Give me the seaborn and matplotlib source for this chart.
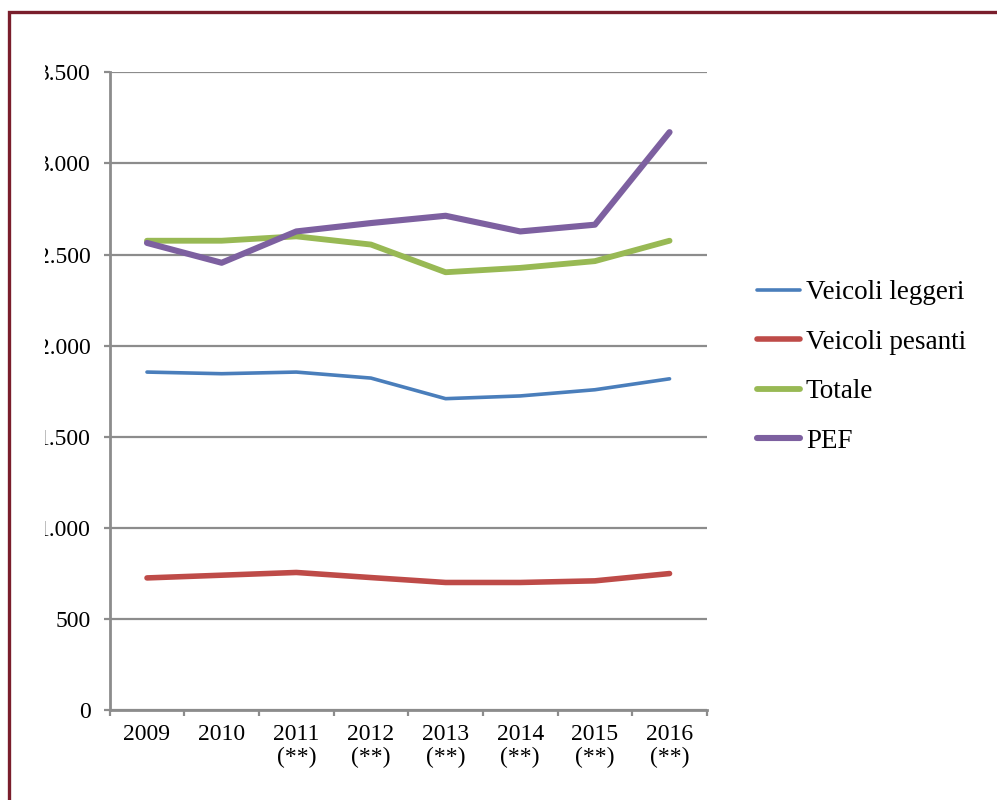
import pandas as pd
import numpy as np
import seaborn as sns
import matplotlib.pyplot as plt
from matplotlib.patches import Rectangle
from matplotlib.transforms import Bbox, TransformedBbox

# Data
anni = ['2009', '2010', '2011\n(**)', '2012\n(**)', '2013\n(**)',
        '2014\n(**)', '2015\n(**)', '2016\n(**)']
veicoli_leggeri = [1855, 1846, 1855, 1822, 1709, 1724, 1758, 1818]
veicoli_pesanti = [725, 740, 755, 727, 700, 700, 709, 749]
totale = [2576, 2576, 2600, 2555, 2403, 2427, 2464, 2576]
pef = [2564, 2455, 2627, 2673, 2713, 2627, 2664, 3172]

serie = ['Veicoli leggeri', 'Veicoli pesanti', 'Totale', 'PEF']
colori = ['#4A7EBB', '#BE4B48', '#98B954', '#7D60A0']
spessori = [2.6, 4.0, 4.2, 4.4]

df = pd.DataFrame({
    'pos': list(range(len(anni))) * 4,
    'valore': veicoli_leggeri + veicoli_pesanti + totale + pef,
    'serie': np.repeat(serie, len(anni)),
})

sns.set_theme(style='white')
plt.rcParams['font.family'] = ['Liberation Serif', 'DejaVu Serif']
plt.rcParams['text.color'] = 'black'
plt.rcParams['xtick.labelcolor'] = 'black'
plt.rcParams['ytick.labelcolor'] = 'black'

fig = plt.figure(figsize=(9.97, 8.0), dpi=100)
ax = fig.add_axes([0.110, 0.1125, 0.599, 0.797])

for nome, col, lw in zip(serie, colori, spessori):
    sub = df[df['serie'] == nome]
    sns.lineplot(data=sub, x='pos', y='valore', ax=ax, color=col, linewidth=lw,
                 label=nome, solid_capstyle='round', solid_joinstyle='round')

ax.set_xlim(-0.5, len(anni) - 0.5)
ax.set_ylim(0, 3500)
ax.set_yticks(np.arange(0, 3501, 500))
ax.set_yticklabels([f'{v:,}'.replace(',', '.') for v in range(0, 3501, 500)])
ax.yaxis.grid(True, color='#8C8C8C', linewidth=1.6)
ax.xaxis.grid(False)
ax.set_xlabel('')
ax.set_ylabel('')

# x: tick marks on category boundaries, labels centred
ax.set_xticks(np.arange(-0.5, len(anni), 1.0))
ax.set_xticklabels([])
ax.set_xticks(range(len(anni)), minor=True)
ax.set_xticklabels(anni, minor=True, fontsize=17, linespacing=1.15)
ax.tick_params(axis='x', which='major', length=4, width=1.6, color='#8C8C8C',
               direction='out', bottom=True)
ax.tick_params(axis='x', which='minor', length=0, pad=10, labelcolor='black')
ax.tick_params(axis='y', length=4, width=1.6, color='#8C8C8C', direction='out',
               left=True, labelsize=17, pad=9.5, labelcolor='black')

for s in ['top', 'right']:
    ax.spines[s].set_visible(False)
for s in ['left', 'bottom']:
    ax.spines[s].set_color('#8C8C8C')
    ax.spines[s].set_linewidth(2.0)

# y labels are cut on the left in the original
clip = TransformedBbox(Bbox([[45 / 997, 0], [1, 1]]), fig.transFigure)
for lab in ax.get_yticklabels():
    lab.set_clip_box(clip)
    lab.set_clip_on(True)

leg = ax.legend(loc='center left', bbox_to_anchor=(1.066, 0.538), frameon=False,
                fontsize=19.5, handlelength=1.6, handletextpad=0.2,
                labelspacing=0.9, borderaxespad=0, labelcolor='black')
for h, lw in zip(leg.get_lines(), spessori):
    h.set_linewidth(lw)
    h.set_solid_capstyle('round')

# dark red frame of the original picture
fig.patches.append(Rectangle((9 / 997, -0.1), 1.2, 1.1 - 12 / 800, fill=False,
                             edgecolor='#7A1E2C', linewidth=2.4,
                             transform=fig.transFigure, figure=fig))

fig.savefig('out.png', dpi=100)
